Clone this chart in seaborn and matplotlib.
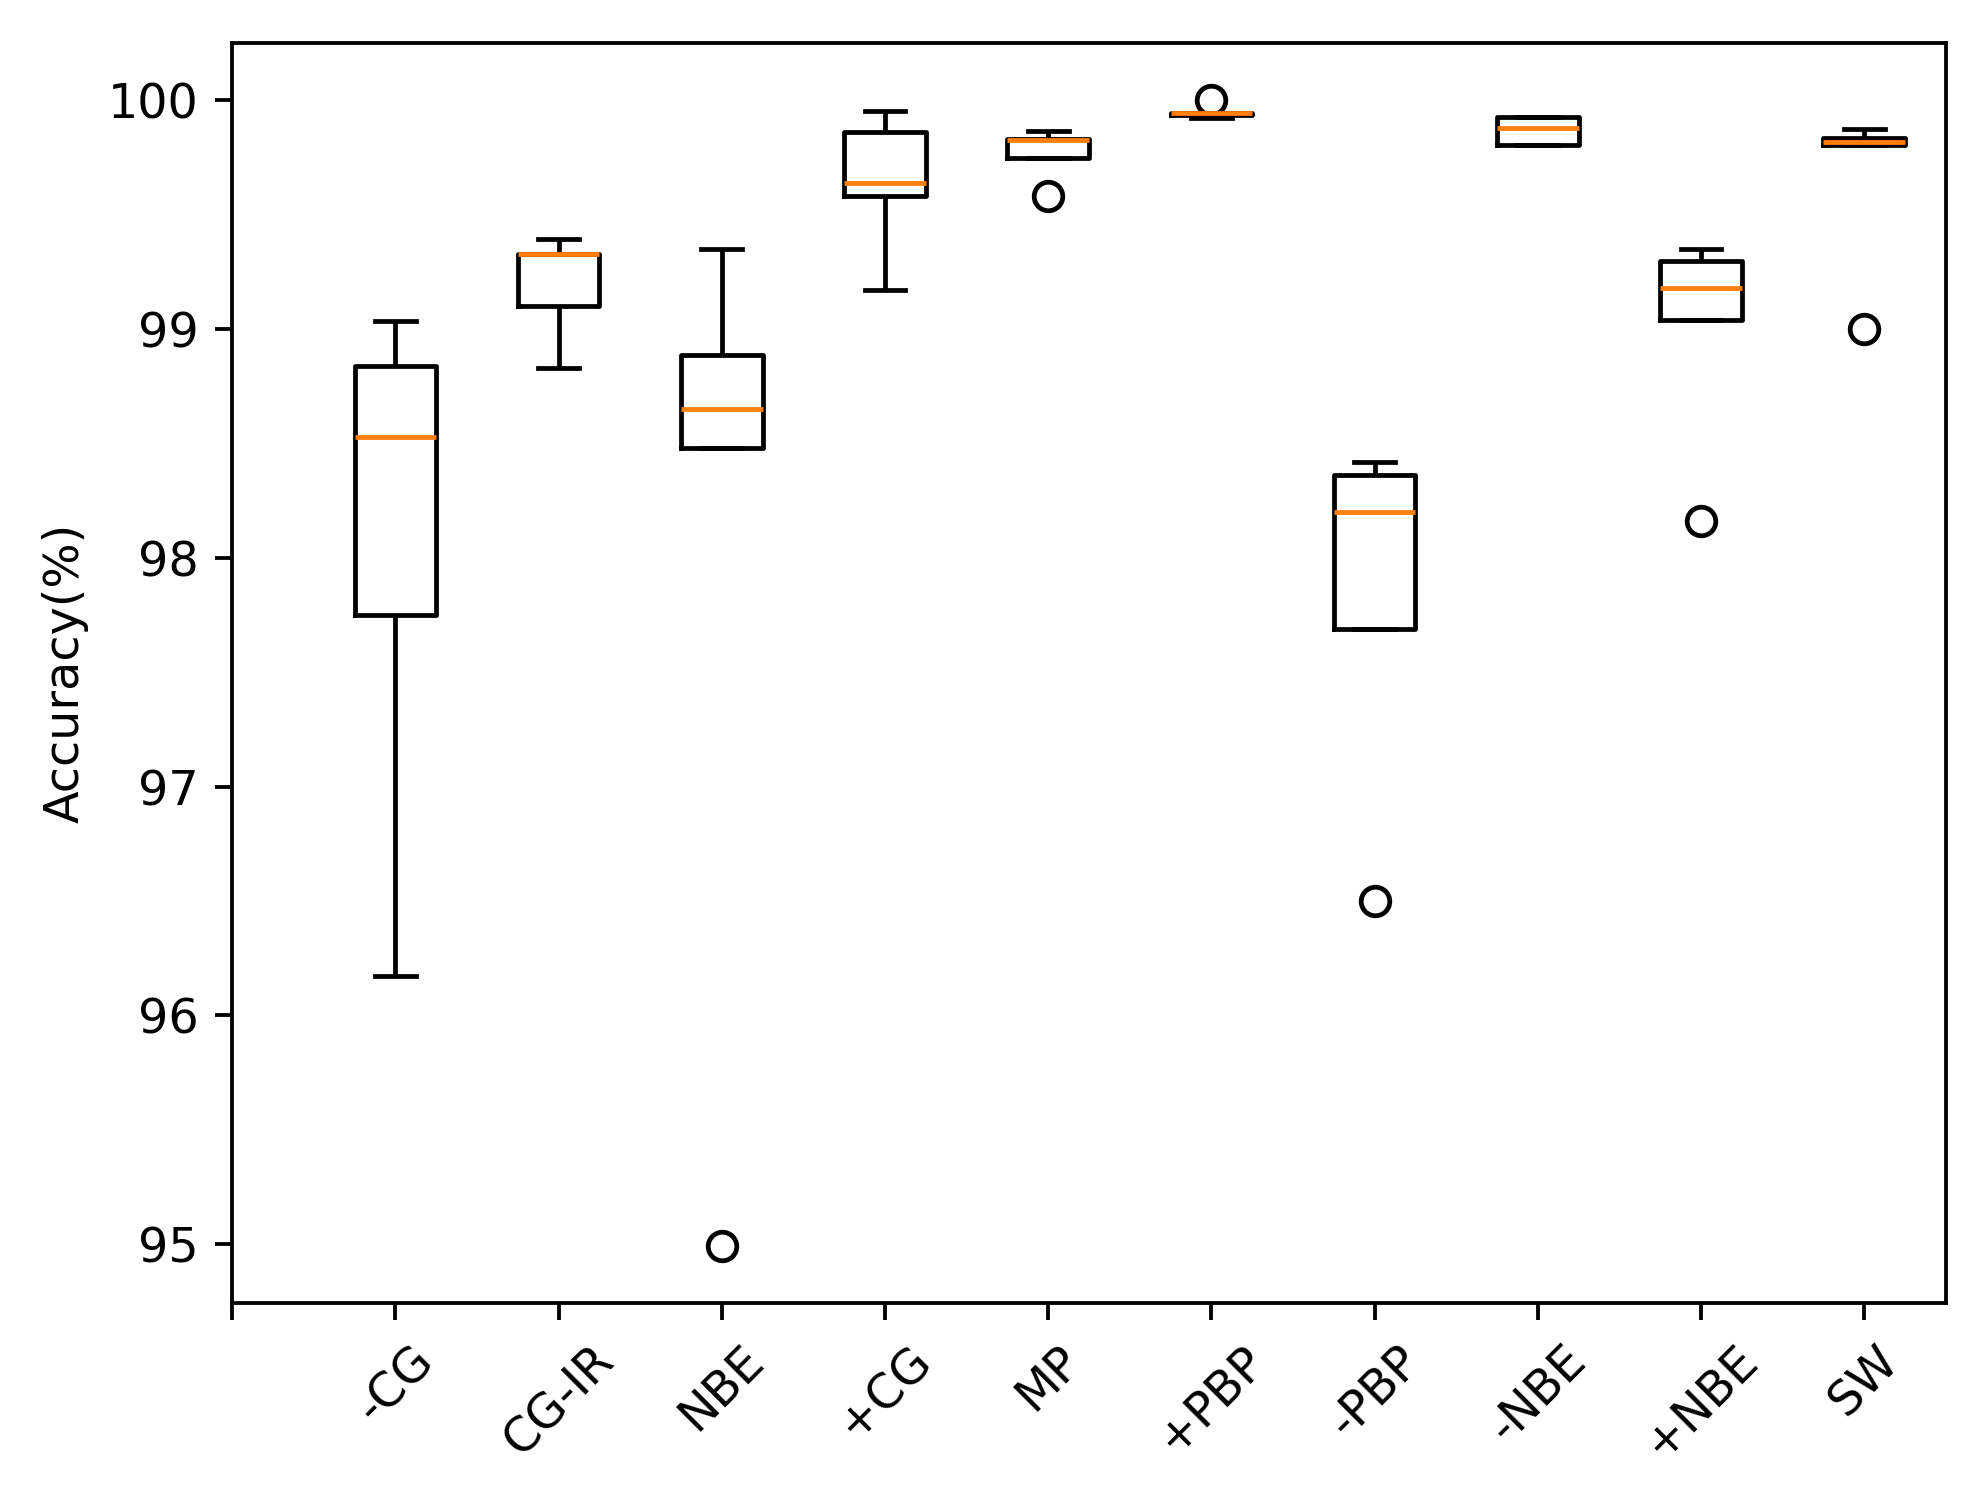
import numpy as np
import pandas as pd
import matplotlib
matplotlib.use("Agg")
import matplotlib.pyplot as plt
import seaborn as sns

# ---- data (accuracy %) ----
methods = ['-CG', 'CG-IR', 'NBE', '+CG', 'MP', '+PBP', '-PBP', '-NBE', '+NBE', 'SW']
cg_minus  = [96.17, 97.75, 98.53, 98.84, 99.035]
cg_ir     = [98.83, 99.10, 99.33, 99.33, 99.395]
nbe       = [94.99, 98.48, 98.65, 98.885, 99.35]
cg_plus   = [99.17, 99.583, 99.638, 99.864, 99.952]
mp        = [99.58, 99.75, 99.826, 99.83, 99.867]
pbp_plus  = [99.925, 99.935, 99.945, 99.945, 100.0]
pbp_minus = [96.50, 97.69, 98.20, 98.36, 98.42]
nbe_minus = [99.804, 99.804, 99.88, 99.928, 99.928]
nbe_plus  = [98.16, 99.04, 99.18, 99.30, 99.35]
sw        = [99.0, 99.805, 99.82, 99.835, 99.875]

series = [cg_minus, cg_ir, nbe, cg_plus, mp, pbp_plus, pbp_minus, nbe_minus, nbe_plus, sw]
tick_labels = [''] + methods

df = pd.DataFrame({
    'method': np.repeat(methods, [len(s) for s in series]),
    'acc': np.concatenate(series),
})

plt.rcParams['font.family'] = ['DejaVu Sans']
dpi = 343
fig = plt.figure(figsize=(1983 / dpi, 1487 / dpi), dpi=dpi)
ax = fig.add_axes([0.1171, 0.1235, 0.9812 - 0.1171, 0.9709 - 0.1235])

sns.boxplot(
    data=df, x='method', y='acc', order=methods, ax=ax,
    fill=False, color='black', linecolor='black', linewidth=1.0,
    width=0.5, whis=1.5, fliersize=6,
    medianprops={'color': '#ff7f0e', 'linewidth': 1.0},
    boxprops={'color': 'black', 'linewidth': 1.0},
    whiskerprops={'color': 'black', 'linewidth': 1.0},
    capprops={'color': 'black', 'linewidth': 1.0},
    flierprops={'marker': 'o', 'markerfacecolor': 'none',
                'markeredgecolor': 'black', 'markeredgewidth': 1.0},
)

ax.set_xlim(-1, 9.5)
ax.set_xticks(range(-1, 10))
ax.set_xticklabels(tick_labels, rotation=45, ha='center')
ax.set_xlabel('')
ax.set_ylabel('Accuracy(%)')
ax.set_yticks([95, 96, 97, 98, 99, 100])
ax.set_ylim(94.74, 100.25)
for s in ax.spines.values():
    s.set_visible(True)
    s.set_color('black')
    s.set_linewidth(0.8)
ax.grid(False)

fig.savefig('out.png', dpi=dpi, facecolor='white')
